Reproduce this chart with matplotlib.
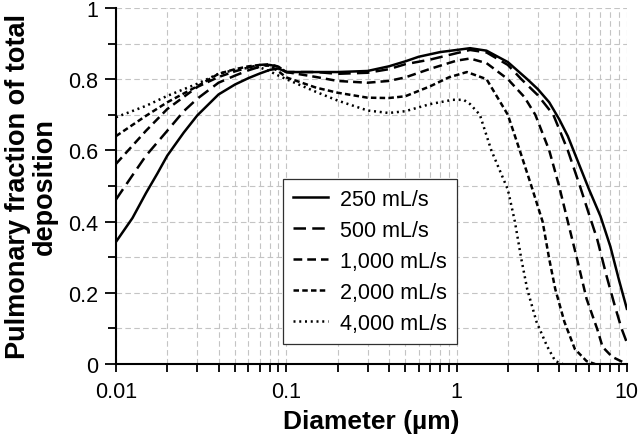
import matplotlib
matplotlib.use("Agg")
from matplotlib import pyplot as plt
from matplotlib.ticker import FixedLocator, FuncFormatter, MultipleLocator, LogLocator, NullFormatter

plt.rcParams['font.family'] = ['Liberation Sans', 'DejaVu Sans']

# diameter (um) and pulmonary fraction
x_250 = [0.01, 0.0125, 0.015, 0.0175, 0.02, 0.025, 0.03, 0.04, 0.05, 0.06, 0.07, 0.08, 0.09,
         0.1, 0.15, 0.2, 0.3, 0.4, 0.5, 0.6, 0.8, 1.0, 1.2, 1.5, 2, 2.6, 3, 3.5, 4, 4.5, 5,
         6, 7, 8, 9, 10]
y_250 = [0.343, 0.41, 0.48, 0.535, 0.585, 0.65, 0.698, 0.757, 0.785, 0.803, 0.816, 0.826, 0.83,
         0.82, 0.82, 0.82, 0.823, 0.836, 0.85, 0.863, 0.876, 0.882, 0.887, 0.88, 0.848, 0.80,
         0.772, 0.735, 0.688, 0.64, 0.585, 0.49, 0.415, 0.33, 0.235, 0.155]

x_500 = [0.01, 0.0125, 0.015, 0.02, 0.025, 0.03, 0.04, 0.05, 0.06, 0.07, 0.08, 0.09, 0.1, 0.15,
         0.2, 0.3, 0.4, 0.5, 0.7, 1.0, 1.2, 1.5, 2, 2.4, 3, 3.7, 4.5, 5.3, 6, 6.7, 7.6, 8.5,
         9.3, 10]
y_500 = [0.462, 0.53, 0.585, 0.655, 0.71, 0.745, 0.79, 0.81, 0.825, 0.835, 0.84, 0.835, 0.82,
         0.82, 0.815, 0.818, 0.828, 0.842, 0.855, 0.873, 0.882, 0.875, 0.84, 0.80, 0.755, 0.70,
         0.60, 0.50, 0.42, 0.35, 0.247, 0.163, 0.10, 0.06]

x_1000 = [0.01, 0.015, 0.02, 0.03, 0.04, 0.05, 0.06, 0.07, 0.08, 0.09, 0.1, 0.15, 0.2, 0.3,
          0.4, 0.5, 0.7, 1.0, 1.2, 1.5, 2, 2.5, 2.9, 3.5, 4, 4.5, 5.1, 5.8, 6.7, 7.2, 8.2,
          9.5, 10]
y_1000 = [0.562, 0.655, 0.716, 0.778, 0.806, 0.822, 0.833, 0.84, 0.842, 0.835, 0.82, 0.806,
          0.795, 0.79, 0.795, 0.805, 0.829, 0.852, 0.858, 0.845, 0.80, 0.75, 0.70, 0.60, 0.50,
          0.40, 0.295, 0.183, 0.098, 0.048, 0.02, 0.005, 0.0]

x_2000 = [0.01, 0.015, 0.02, 0.03, 0.04, 0.05, 0.06, 0.07, 0.08, 0.09, 0.1, 0.15, 0.2, 0.3,
          0.4, 0.5, 0.7, 0.9, 1.15, 1.5, 2.0, 2.35, 2.75, 3.2, 3.5, 3.8, 4.3, 4.95, 5.8, 6.5]
y_2000 = [0.64, 0.697, 0.735, 0.78, 0.815, 0.828, 0.836, 0.84, 0.838, 0.822, 0.805, 0.776,
          0.762, 0.748, 0.747, 0.752, 0.78, 0.805, 0.82, 0.80, 0.70, 0.60, 0.50, 0.40, 0.295,
          0.21, 0.118, 0.042, 0.008, 0.0]

x_4000 = [0.01, 0.015, 0.02, 0.03, 0.04, 0.05, 0.06, 0.07, 0.08, 0.09, 0.1, 0.15, 0.2, 0.3,
          0.4, 0.5, 0.7, 0.95, 1.1, 1.2, 1.37, 1.6, 2.0, 2.2, 2.4, 2.6, 2.95, 3.4, 3.8, 4.2]
y_4000 = [0.693, 0.725, 0.753, 0.787, 0.815, 0.826, 0.832, 0.833, 0.822, 0.81, 0.80, 0.764,
          0.74, 0.712, 0.705, 0.71, 0.73, 0.742, 0.742, 0.73, 0.70, 0.60, 0.49, 0.40, 0.295,
          0.21, 0.118, 0.05, 0.008, 0.0]

labels = ["250 mL/s", "500 mL/s", "1,000 mL/s", "2,000 mL/s", "4,000 mL/s"]

fig = plt.figure(figsize=(6.39, 4.39), dpi=100)
ax = fig.add_axes([0.1815, 0.1686, 0.7995, 0.811])

lw = 1.8
ax.plot(x_250, y_250, color="black", lw=lw, ls="-", label=labels[0])
ax.plot(x_500, y_500, color="black", lw=lw, dashes=(5, 2.5), label=labels[1])
ax.plot(x_1000, y_1000, color="black", lw=lw, dashes=(3.5, 2), label=labels[2])
ax.plot(x_2000, y_2000, color="black", lw=lw, dashes=(2.2, 1.3), label=labels[3])
ax.plot(x_4000, y_4000, color="black", lw=lw, dashes=(0.8, 1.5), label=labels[4])

ax.set_xscale("log")
ax.set_xlim(0.01, 10)
ax.set_ylim(0, 1)

ax.xaxis.set_major_locator(FixedLocator([0.01, 0.1, 1, 10]))
ax.xaxis.set_major_formatter(FuncFormatter(lambda v, p: "{:g}".format(v)))
ax.xaxis.set_minor_locator(LogLocator(base=10, subs=range(2, 10), numticks=20))
ax.xaxis.set_minor_formatter(NullFormatter())
ax.yaxis.set_major_locator(MultipleLocator(0.2))
ax.yaxis.set_minor_locator(MultipleLocator(0.1))
ax.yaxis.set_major_formatter(FuncFormatter(lambda v, p: "{:g}".format(round(v, 1))))

ax.grid(True, which="both", color="#c4c4c4", lw=0.8, ls=(0, (5, 3)))
ax.set_axisbelow(True)

for s in ["top", "right"]:
    ax.spines[s].set_visible(False)
for s in ["left", "bottom"]:
    ax.spines[s].set_linewidth(1.5)

ax.tick_params(which="both", direction="out", width=1.3, labelsize=15.5)
ax.tick_params(axis="y", which="major", length=8, pad=5)
ax.tick_params(axis="y", which="minor", length=6)
ax.tick_params(axis="x", which="both", length=6, pad=6)

ax.set_xlabel("Diameter (\u00b5m)", fontsize=19, fontweight="bold", labelpad=5)
ax.set_ylabel("Pulmonary fraction of total\ndeposition", fontsize=19.5, fontweight="bold",
              labelpad=7, linespacing=1.05)

leg = ax.legend(loc="upper left", bbox_to_anchor=(0.327, 0.52), fontsize=15.5, frameon=True,
                fancybox=False, edgecolor="#303030", handlelength=1.65, handletextpad=0.55,
                borderpad=0.45, labelspacing=0.47, borderaxespad=0, framealpha=1)
leg.get_frame().set_linewidth(0.9)

fig.savefig("out.png", dpi=100)
